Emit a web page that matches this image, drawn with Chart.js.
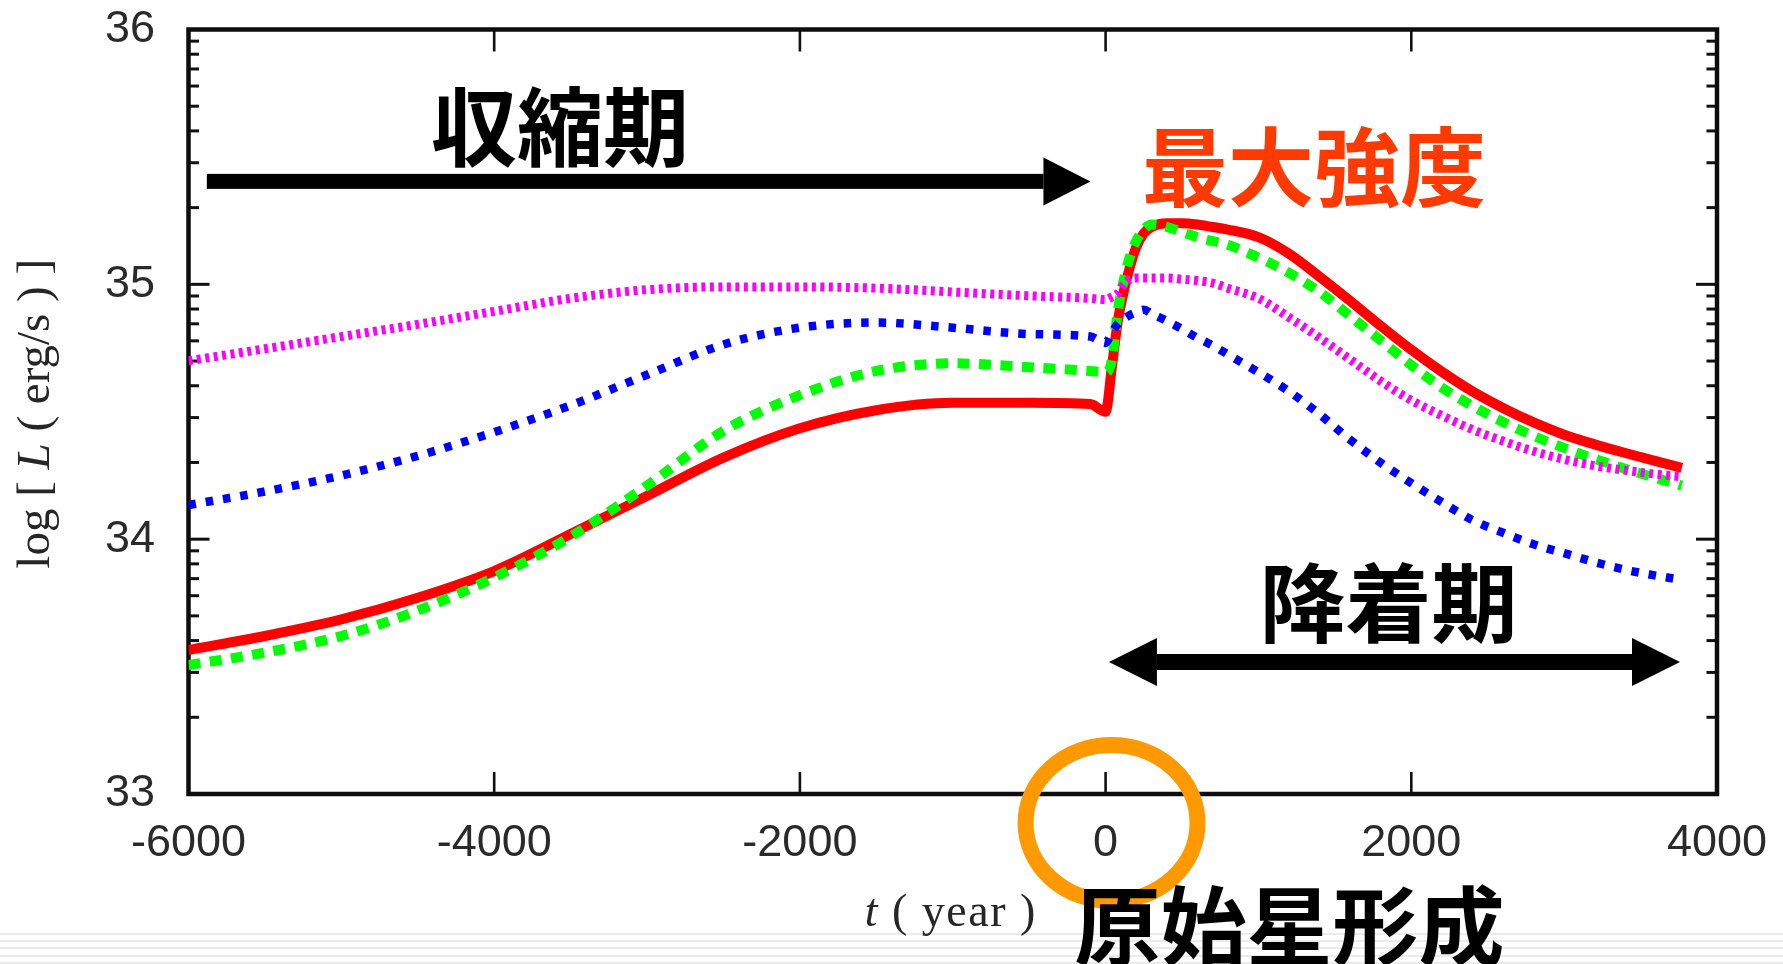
<!DOCTYPE html>
<html>
<head>
<meta charset="utf-8">
<script src="https://cdn.jsdelivr.net/npm/chart.js@4.4.1/dist/chart.umd.min.js"></script>
<style>
html,body{margin:0;padding:0;background:#fff;overflow:hidden;}
#wrap{width:1783px;height:964px;position:relative;}
</style>
</head>
<body>
<div id="wrap"><canvas id="c"></canvas></div>
<script>
// ---- data ----
const years = [-6000,-5500,-5000,-4500,-4000,-3500,-3000,-2500,-2000,-1500,-1000,-500,-100,0,
  40,80,120,160,200,250,300,400,500,600,700,800,1000,1200,1400,1600,1800,2000,
  2200,2400,2600,2800,3000,3200,3400,3600,3770];

const lumRed = [33.565,33.62,33.685,33.77,33.875,34.02,34.17,34.32,34.435,34.506,34.535,34.535,34.53,34.50,
  34.67,34.855,34.975,35.07,35.145,35.20,35.225,35.24,35.24,35.235,35.225,35.215,35.185,35.12,35.03,34.935,34.837,34.743,
  34.657,34.58,34.515,34.458,34.41,34.372,34.338,34.306,34.28];

const lumGreen = [33.506,33.555,33.62,33.72,33.85,34.01,34.21,34.425,34.565,34.66,34.69,34.675,34.66,34.655,
  34.70,34.895,35.02,35.11,35.17,35.215,35.235,35.225,35.205,35.185,35.17,35.155,35.105,35.045,34.97,34.875,34.78,34.683,
  34.595,34.523,34.46,34.405,34.358,34.315,34.276,34.24,34.21];

const lumBlue = [34.134,34.187,34.25,34.327,34.42,34.525,34.645,34.764,34.83,34.85,34.83,34.805,34.795,34.77,
  34.81,34.845,34.865,34.88,34.89,34.90,34.885,34.857,34.825,34.79,34.76,34.725,34.655,34.58,34.49,34.39,34.30,34.22,
  34.145,34.075,34.025,33.98,33.945,33.91,33.88,33.857,33.84];

const lumMagenta = [34.70,34.747,34.795,34.843,34.894,34.945,34.979,34.99,34.99,34.985,34.97,34.955,34.945,34.94,
  34.95,34.965,35.0,35.02,35.025,35.025,35.025,35.025,35.02,35.015,35.005,34.985,34.945,34.87,34.79,34.705,34.62,34.545,
  34.485,34.43,34.385,34.345,34.313,34.288,34.27,34.255,34.245];

const xTickValues = [-6000,-4000,-2000,0,2000,4000];
const yTickValues = [33,34,35,36];

const textContraction = '収縮期';
const textPeak = '最大強度';
const textAccretion = '降着期';
const textFormation = '原始星形成';

// ---- chart ----
function pts(vals){ return years.map((t,i)=>({x:t, y:vals[i]})); }

const CJK = '"Noto Sans CJK JP","Noto Sans CJK SC",sans-serif';

const backgroundPlugin = {
  id:'bg',
  beforeDraw(chart){
    const {ctx, width, height} = chart;
    ctx.save();
    ctx.fillStyle = '#fff';
    ctx.fillRect(0,0,width,height);
    ctx.strokeStyle = '#e4e4e4';
    ctx.lineWidth = 1.6;
    [30,23,16,8,1].forEach(d=>{
      ctx.beginPath(); ctx.moveTo(0,height-d); ctx.lineTo(width,height-d); ctx.stroke();
    });
    ctx.restore();
  }
};

const framePlugin = {
  id:'frame',
  beforeDatasetsDraw(chart){
    const {ctx, chartArea:a, scales:{x,y}} = chart;
    ctx.save();
    ctx.strokeStyle = '#111';
    const seg=(x1,y1,x2,y2)=>{ctx.beginPath();ctx.moveTo(x1,y1);ctx.lineTo(x2,y2);ctx.stroke();};
    ctx.lineWidth = 2.6;
    xTickValues.forEach(v=>{
      const px = x.getPixelForValue(v);
      if (px < a.left+3 || px > a.right-3) return;
      seg(px,a.bottom,px,a.bottom-22);
      seg(px,a.top,px,a.top+22);
    });
    ctx.lineWidth = 3;
    for (let i=0;i<yTickValues.length-1;i++){
      const base = yTickValues[i];
      for (let k=1;k<=9;k++){
        if (i===0 && k===1) continue;
        const py = y.getPixelForValue(base+Math.log10(k));
        const len = k===1 ? 21 : 10.5;
        seg(a.left,py,a.left+len,py);
        seg(a.right,py,a.right-len,py);
      }
    }
    ctx.strokeStyle = '#0d0d0d';
    ctx.lineWidth = 4.5;
    ctx.strokeRect(a.left, a.top, a.right-a.left, a.bottom-a.top);
    ctx.restore();
  }
};

function drawMixed(ctx, parts, cx, cy, size, spacing){
  ctx.letterSpacing = (spacing||0) + 'px';
  let total = 0;
  const widths = parts.map(p=>{
    ctx.font = (p.italic?'italic ':'') + size + 'px "Liberation Serif","DejaVu Serif",serif';
    const w = ctx.measureText(p.t).width; total += w; return w;
  });
  let xx = cx - total/2;
  parts.forEach((p,i)=>{
    ctx.font = (p.italic?'italic ':'') + size + 'px "Liberation Serif","DejaVu Serif",serif';
    ctx.fillText(p.t, xx, cy);
    xx += widths[i];
  });
  ctx.letterSpacing = '0px';
}

const annotationPlugin = {
  id:'notes',
  afterDraw(chart){
    const {ctx, chartArea:a, scales:{x,y}} = chart;
    ctx.save();
    // axis titles
    ctx.fillStyle = '#262626';
    ctx.textBaseline = 'middle';
    ctx.textAlign = 'left';
    drawMixed(ctx, [{t:'t',italic:true},{t:' ( year )'}], (a.left+a.right)/2 - 2, a.bottom + 120, 46, 1.5);
    ctx.save();
    ctx.translate(37, (a.top+a.bottom)/2 + 2);
    ctx.rotate(-Math.PI/2);
    drawMixed(ctx, [{t:'log [ '},{t:'L',italic:true},{t:' ( erg/s ) ]'}], 0, 0, 47, 0);
    ctx.restore();

    // orange circle at protostar formation
    ctx.strokeStyle = '#ff9900';
    ctx.lineWidth = 16;
    ctx.beginPath();
    ctx.ellipse(x.getPixelForValue(39), y.getPixelForValue(32.886), 86, 78, 0, 0, Math.PI*2);
    ctx.stroke();

    // arrows
    ctx.fillStyle = '#000';
    const arrow = (t1, t2, v, both, shaft, hl, hh)=>{
      const x1 = x.getPixelForValue(t1), x2 = x.getPixelForValue(t2), py = y.getPixelForValue(v);
      const s1 = both ? x1 + hl : x1;
      ctx.fillRect(s1, py - shaft/2, (x2 - hl) - s1, shaft);
      ctx.beginPath(); ctx.moveTo(x2, py); ctx.lineTo(x2-hl, py-hh); ctx.lineTo(x2-hl, py+hh); ctx.closePath(); ctx.fill();
      if (both){
        ctx.beginPath(); ctx.moveTo(x1, py); ctx.lineTo(x1+hl, py-hh); ctx.lineTo(x1+hl, py+hh); ctx.closePath(); ctx.fill();
      }
    };
    arrow(-5880, -99, 35.404, false, 15, 47, 24);
    arrow(22, 3758, 33.518, true, 16, 48, 24);

    // labels
    ctx.textAlign = 'center';
    ctx.textBaseline = 'middle';
    ctx.font = '700 86px ' + CJK;
    ctx.fillStyle = '#000';
    ctx.fillText(textContraction, x.getPixelForValue(-3570), y.getPixelForValue(35.617));
    ctx.fillText(textAccretion, x.getPixelForValue(1851), y.getPixelForValue(33.748));
    ctx.fillText(textFormation, x.getPixelForValue(1203), y.getPixelForValue(32.48));
    ctx.fillStyle = '#ff3a00';
    ctx.fillText(textPeak, x.getPixelForValue(1363), y.getPixelForValue(35.458));
    ctx.restore();
  }
};

const hiddenGrid = (len)=>({display:true, drawOnChartArea:false, drawTicks:true, tickLength:len,
  color:'rgba(0,0,0,0)', tickColor:'rgba(0,0,0,0)'});

function build(){
  new Chart(document.getElementById('c'), {
    type:'line',
    data:{
      datasets:[
        {label:'red', data:pts(lumRed), borderColor:'#ff0000', borderWidth:10, order:4},
        {label:'green', data:pts(lumGreen), borderColor:'#00ff00', borderWidth:10, borderDash:[12,9.5], order:3},
        {label:'blue', data:pts(lumBlue), borderColor:'#0000ff', borderWidth:8.5, borderDash:[7.5,10], order:2},
        {label:'magenta', data:pts(lumMagenta), borderColor:'#ff00ff', borderWidth:9, borderDash:[4,4.5], order:1}
      ].map(d=>Object.assign(d,{pointRadius:0, fill:false, cubicInterpolationMode:'monotone', borderCapStyle:'butt', borderJoinStyle:'round'}))
    },
    options:{
      responsive:true, maintainAspectRatio:false, animation:false, devicePixelRatio:1,
      layout:{padding:{top:29.5, right:66, left:0, bottom:0}},
      plugins:{legend:{display:false}, tooltip:{enabled:false}},
      scales:{
        x:{type:'linear', min:-6000, max:4000,
          afterBuildTicks:s=>{s.ticks = xTickValues.map(v=>({value:v}));},
          afterFit:s=>{s.height = 170;},
          grid:hiddenGrid(23), border:{display:false},
          ticks:{autoSkip:false, maxRotation:0, padding:0, color:'#2a2a2a',
            font:{family:'"Liberation Sans",Arial,sans-serif', size:45},
            callback:v=>String(v)}
        },
        y:{type:'linear', min:33, max:36,
          afterBuildTicks:s=>{s.ticks = yTickValues.map(v=>({value:v}));},
          afterFit:s=>{s.width = 188.5;},
          grid:hiddenGrid(33.5), border:{display:false},
          ticks:{autoSkip:false, padding:0, color:'#2a2a2a',
            font:{family:'"Liberation Sans",Arial,sans-serif', size:45},
            callback:v=>String(v)}
        }
      }
    },
    plugins:[backgroundPlugin, framePlugin, annotationPlugin]
  });
}
const loads = ['700 86px "Noto Sans CJK JP"','45px "Liberation Sans"','46px "Liberation Serif"','italic 46px "Liberation Serif"']
  .map(f=>document.fonts.load(f, '収縮期最大強度降着原始星形成0123456789').catch(()=>null));
Promise.race([Promise.all(loads), new Promise(r=>setTimeout(r,1500))]).then(build);
</script>
</body>
</html>
